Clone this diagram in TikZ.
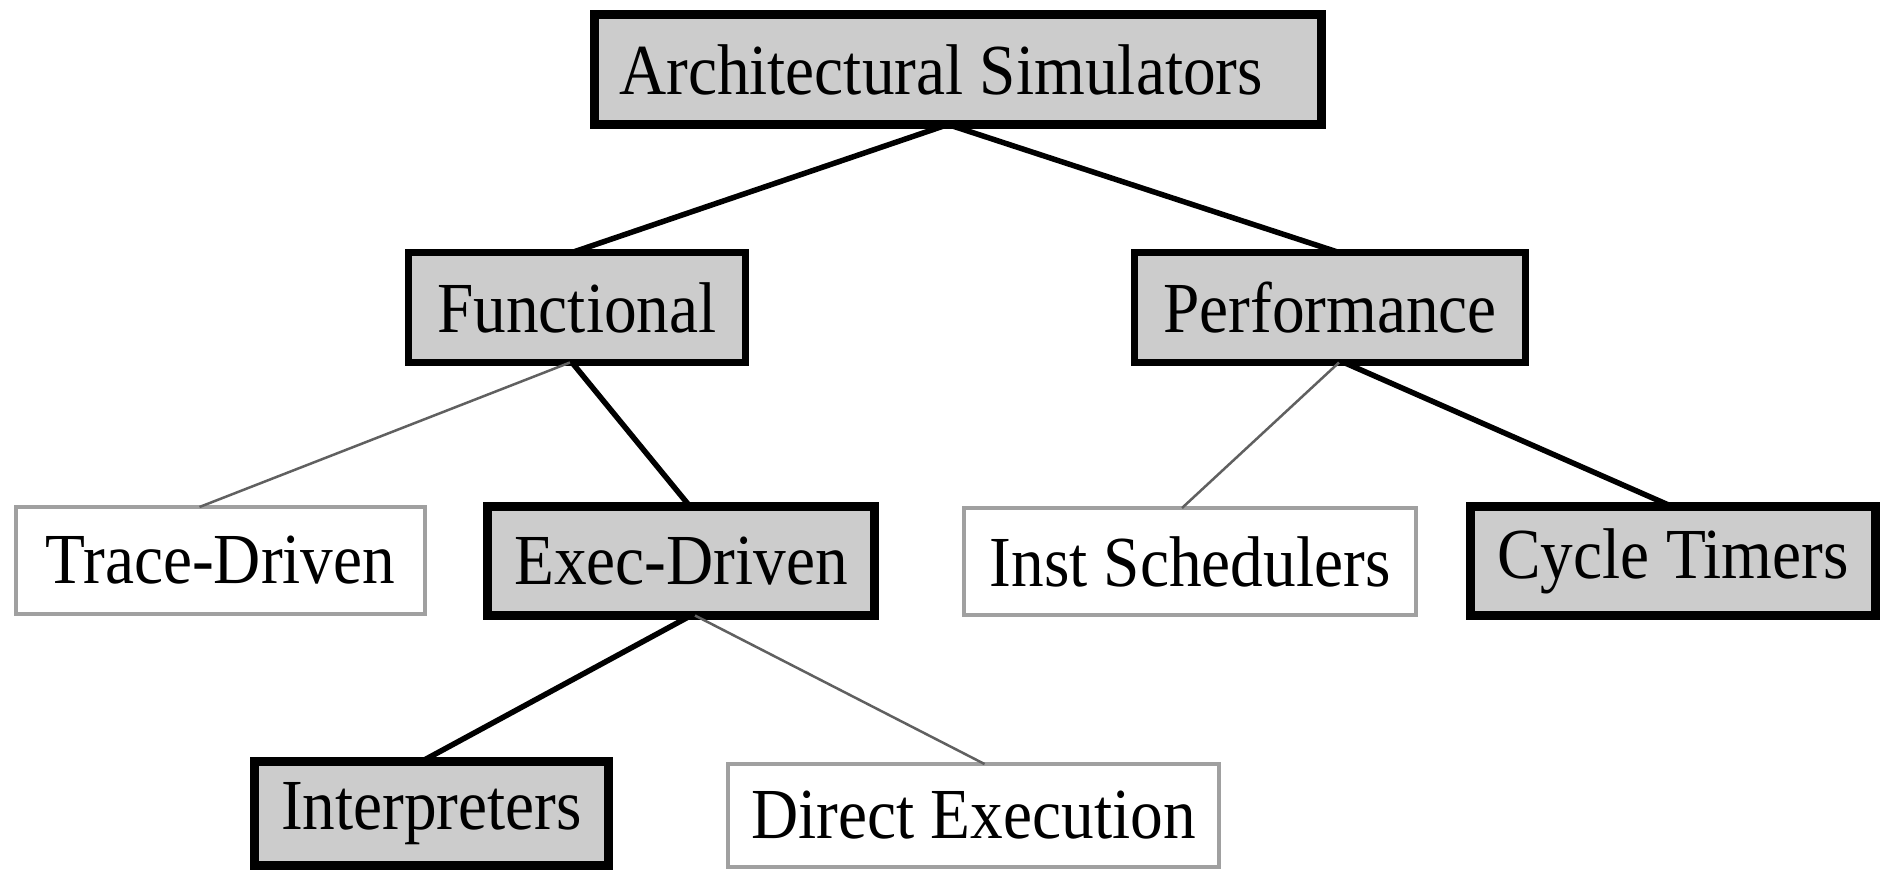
\documentclass[tikz,border=0pt]{standalone}
\usepackage{fontspec}
\setmainfont{Liberation Serif}
\definecolor{boxgray}{HTML}{CCCCCC}
\definecolor{thinborder}{HTML}{A0A0A0}
\definecolor{thinline}{HTML}{606060}
\newcommand{\tall}[1]{\scalebox{1}[1.1]{#1}}
\begin{document}
\begin{tikzpicture}[x=1pt,y=-1pt,
  every node/.style={inner sep=0pt,outer sep=0pt,font=\fontsize{65.3}{78}\selectfont},
  darkbox/.style={draw=black,fill=boxgray,line width=9pt},
  midbox/.style={draw=black,fill=boxgray,line width=7pt},
  lightbox/.style={draw=thinborder,fill=white,line width=4pt},
  strong/.style={draw=black,line width=5.5pt},
  weak/.style={draw=thinline,line width=2.5pt}]
\useasboundingbox[fill=white] (0,0) rectangle (1880,870);
% nodes
\node[darkbox,minimum width=727pt,minimum height=110pt] (arch) at (958,69.5) {\tall{Architectural Simulators}\kern34pt};
\node[midbox,minimum width=337pt,minimum height=110pt] (func) at (577,307.5) {\tall{Functional}};
\node[midbox,minimum width=391pt,minimum height=110pt] (perf) at (1330,307.5) {\tall{Performance}};
\node[lightbox,minimum width=409pt,minimum height=107pt] (trace) at (220.5,560.5) {\tall{Trace-Driven}};
\node[darkbox,minimum width=387pt,minimum height=109pt] (exec) at (681,561) {\tall{Exec-Driven}};
\node[lightbox,minimum width=452pt,minimum height=107pt] (inst) at (1190,561.5) {\tall{Inst Schedulers}};
\node[darkbox,minimum width=405pt,minimum height=109pt] (cycle) at (1673,561) {\tall{Cycle Timers}};
\node[darkbox,minimum width=354pt,minimum height=104pt] (interp) at (431.5,813.5) {\tall{Interpreters}};
\node[lightbox,minimum width=491pt,minimum height=103pt] (direct) at (973.5,815.5) {\tall{Direct Execution}};
% connectors
\draw[strong] ([xshift=-10pt]arch.south) -- ([xshift=-5pt]func.north);
\draw[strong] ([xshift=-10pt]arch.south) -- ([xshift=9pt]perf.north);
\draw[weak] ([xshift=-7pt]func.south) -- ([xshift=-21pt]trace.north);
\draw[strong] ([xshift=-5pt]func.south) -- ([xshift=9pt]exec.north);
\draw[weak] ([xshift=9pt]perf.south) -- ([xshift=-8pt]inst.north);
\draw[strong] ([xshift=14pt]perf.south) -- ([xshift=-1pt]cycle.north);
\draw[strong] ([xshift=10pt]exec.south) -- ([xshift=-10pt]interp.north);
\draw[weak] ([xshift=14pt]exec.south) -- ([xshift=11pt]direct.north);
\end{tikzpicture}
\end{document}
